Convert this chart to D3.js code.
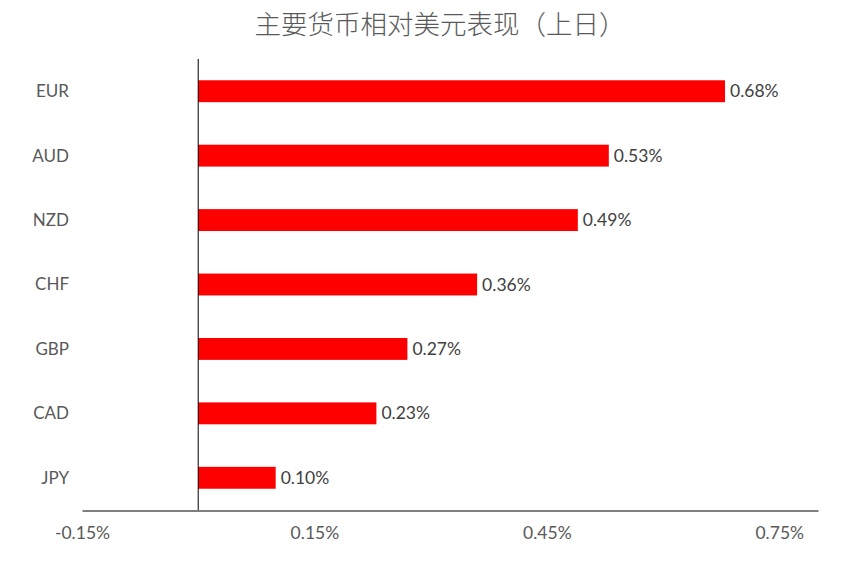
<!DOCTYPE html>
<html>
<head>
<meta charset="utf-8">
<script src="https://cdn.jsdelivr.net/npm/d3@7"></script>
<style>
  body { margin: 0; background: #fff; }
  svg text { font-family: Lato, "Open Sans", sans-serif; }
</style>
</head>
<body>
<svg id="chart" width="854" height="569"></svg>
<script>
const currencies = ['EUR', 'AUD', 'NZD', 'CHF', 'GBP', 'CAD', 'JPY'];
const changes = [0.68, 0.53, 0.49, 0.36, 0.27, 0.23, 0.10];
const tickValues = [-0.15, 0.15, 0.45, 0.75];
const title = '主要货币相对美元表现（上日）';

const WIDTH = 854, HEIGHT = 569;
const MARGIN = { top: 59, right: 36, bottom: 59, left: 82 };

const svg = d3.select('#chart');

const x = d3.scaleLinear()
  .domain([-0.15, 0.8])
  .range([MARGIN.left, WIDTH - MARGIN.right]);

const y = d3.scaleBand()
  .domain(currencies)
  .range([MARGIN.top, HEIGHT - MARGIN.bottom])
  .paddingInner(0.66)
  .paddingOuter(0.33);

// title
svg.append('text')
  .attr('x', 440)
  .attr('y', 34)
  .attr('text-anchor', 'middle')
  .style('font-family', '"Noto Sans CJK SC", sans-serif')
  .style('font-weight', 300)
  .style('font-size', '26.5px')
  .attr('fill', '#595959')
  .text(title);

// bars
const rows = currencies.map((c, i) => ({ c, v: changes[i] }));

svg.append('g')
  .attr('fill', '#ff0000')
  .selectAll('rect')
  .data(rows)
  .join('rect')
  .attr('x', d => x(Math.min(0, d.v)))
  .attr('width', d => Math.abs(x(d.v) - x(0)))
  .attr('y', d => y(d.c))
  .attr('height', y.bandwidth());

// value labels
svg.append('g')
  .selectAll('text')
  .data(rows)
  .join('text')
  .attr('x', d => x(d.v) + 5)
  .attr('y', d => y(d.c) + y.bandwidth() / 2)
  .attr('dy', '0.35em')
  .style('font-size', '17.5px')
  .attr('fill', '#404040')
  .text(d => d.v.toFixed(2) + '%');

// category labels
svg.append('g')
  .selectAll('text')
  .data(currencies)
  .join('text')
  .attr('x', 69)
  .attr('y', d => y(d) + y.bandwidth() / 2)
  .attr('dy', '0.35em')
  .attr('text-anchor', 'end')
  .style('font-size', '17px')
  .attr('fill', '#595959')
  .text(d => d);

// zero line
svg.append('line')
  .attr('x1', x(0)).attr('x2', x(0))
  .attr('y1', MARGIN.top).attr('y2', HEIGHT - MARGIN.bottom)
  .attr('stroke', '#000')
  .attr('stroke-width', 1);

// x axis
const xAxis = svg.append('g')
  .attr('transform', `translate(0, ${HEIGHT - MARGIN.bottom + 0.5})`)
  .call(d3.axisBottom(x)
    .tickValues(tickValues)
    .tickSize(0)
    .tickPadding(16)
    .tickFormat(d => d.toFixed(2) + '%'));

xAxis.select('.domain').attr('stroke', '#000').attr('stroke-width', 1.2);
xAxis.selectAll('text')
  .style('font-size', '17.5px')
  .style('font-family', 'Lato, sans-serif')
  .attr('fill', '#595959');
</script>
</body>
</html>
